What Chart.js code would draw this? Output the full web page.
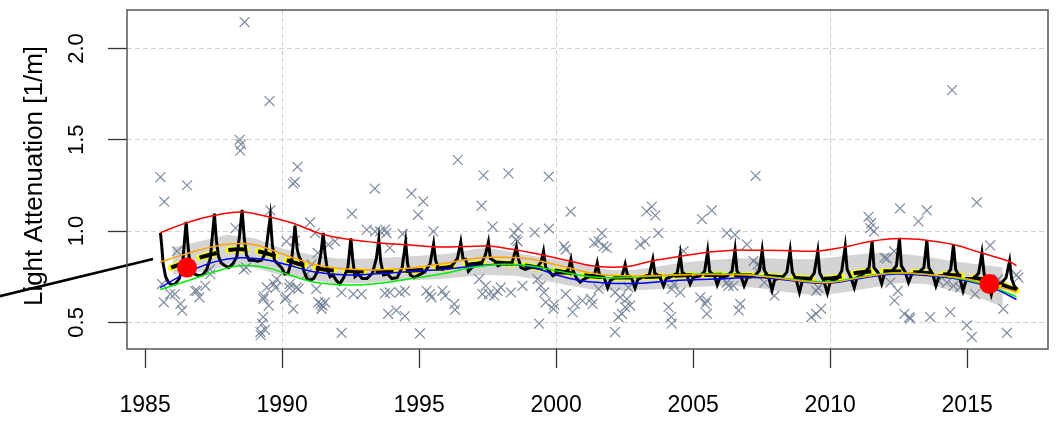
<!DOCTYPE html>
<html>
<head>
<meta charset="utf-8">
<script src="https://cdn.jsdelivr.net/npm/chart.js@4.4.1/dist/chart.umd.min.js"></script>
<style>
  html, body { margin: 0; padding: 0; background: #fff; }
  canvas { display: block; }
</style>
</head>
<body>
<canvas id="chart" width="1061" height="421"></canvas>
<script>
// axis setup
const xTicks = [1985, 1990, 1995, 2000, 2005, 2010, 2015];
const yTicks = [0.5, 1.0, 1.5, 2.0];
const yTickLabels = ['0.5', '1.0', '1.5', '2.0'];
const yTitle = 'Light Attenuation [1/m]';

// observations (year, value)
const observed = [
  [1988.63,2.145],[1989.54,1.712],[1988.45,1.50],[1988.5,1.475],[1988.47,1.44],[1996.41,1.39],[2014.45,1.772],
  [1985.56,1.296],[1985.7,1.161],[1986.53,1.251],[1989.57,1.113],[1990.4,1.26],[1990.47,1.27],[1990.56,1.352],
  [1991.02,1.047],[1992.55,1.095],[1993.38,1.233],[1994.72,1.206],[1995.15,1.163],[1994.96,1.089],[1997.35,1.305],
  [1998.26,1.316],[1999.73,1.298],[1997.28,1.139],[2000.53,1.107],[2003.3,1.108],[2003.49,1.134],[2003.62,1.086],
  [2005.32,1.066],[2005.68,1.113],[2007.28,1.303],[2011.4,1.078],[2011.5,1.043],[2011.6,0.998],[2011.46,1.016],
  [2012.55,1.125],[2013.53,1.113],[2013.22,1.053],[2015.35,1.157],
  [1997.68,1.025],[1998.61,1.016],[1998.47,0.989],[1998.53,0.953],[1998.59,0.944],[1999.22,0.993],[1999.74,1.013],
  [2000.29,0.917],[2000.35,0.899],[2001.39,0.935],[2001.67,0.989],[2001.55,0.944],[2001.73,0.917],[2001.85,0.908],
  [2003.73,0.989],[2003.25,0.944],[2003.07,0.926],[2004.65,0.89],[2006.23,0.989],[2006.53,0.98],[2006.96,0.926],
  [2007.2,0.836],[2007.36,0.818],[2007.45,0.81],[2011.98,0.854],[2012.07,0.85],[2012.33,0.89],[2015.84,0.921],
  [2016.87,0.745],[2016.8,0.76],[2016.14,0.737],
  [1990.16,0.944],[1990.47,0.948],[1991.2,0.989],[1991.3,0.88],[1991.69,0.926],[1991.93,0.944],[1993.09,1.008],
  [1993.39,0.998],[1993.58,0.998],[1993.76,1.008],[1993.81,0.989],[1993.93,0.908],[1994.4,0.984],[1995.52,0.998],
  [1988.3,1.016],[1986.17,0.89],[1988.69,0.80],[1988.6,0.79],[1987.38,0.764],[1987.37,0.79],
  [1985.62,0.71],[1985.68,0.61],[1985.92,0.655],[1986.09,0.655],[1986.29,0.601],[1986.35,0.565],[1986.82,0.673],
  [1986.9,0.673],[1986.98,0.637],[1987.2,0.70],
  [1989.33,0.642],[1989.51,0.592],[1989.31,0.529],[1989.27,0.493],[1989.21,0.447],[1989.38,0.46],[1989.22,0.43],
  [1989.7,0.71],[1989.76,0.69],[1989.8,0.737],[1989.44,0.691],[1989.32,0.628],
  [1990.11,0.628],[1990.16,0.637],[1990.28,0.71],[1990.27,0.69],[1990.41,0.574],[1990.52,0.69],[1990.6,0.683],
  [1990.9,0.764],[1991.08,0.818],[1991.25,0.683],[1991.32,0.61],[1991.4,0.601],[1991.47,0.592],[1991.44,0.574],
  [1991.57,0.61],[1992.17,0.664],[1992.17,0.442],[1992.6,0.655],[1992.9,0.655],[1993.75,0.659],[1993.93,0.664],
  [1994.29,0.664],[1993.87,0.547],[1994.17,0.565],[1994.48,0.534],[1995.03,0.439],[1995.27,0.673],[1995.39,0.655],
  [1995.45,0.637],[1994.49,0.673],[1995.95,0.646],
  [1995.85,0.673],[1996.28,0.601],[1996.31,0.569],[1997.19,0.737],[1997.43,0.70],[1997.31,0.655],[1997.55,0.655],
  [1997.74,0.646],[1997.86,0.673],[1997.98,0.691],[1998.35,0.664],[1998.77,0.70],[1999.32,0.737],[1999.44,0.70],
  [1999.56,0.664],[1999.62,0.61],[1999.93,0.597],[2000.35,0.655],[1999.38,0.493],[2000.6,0.556],[2000.96,0.619],
  [2001.27,0.628],[2001.33,0.601],[1999.9,0.574],[2000.69,0.601],
  [2001.55,0.683],[2002.15,0.664],[2002.34,0.637],[2002.58,0.628],[2002.52,0.583],[2002.7,0.592],[2002.4,0.547],
  [2002.27,0.529],[2002.64,0.691],[2002.15,0.447],[2004.22,0.683],[2004.53,0.664],[2004.3,0.71],[2004.1,0.583],
  [2004.2,0.53],[2004.22,0.493],[2005.26,0.637],[2005.5,0.619],[2005.5,0.547],[2005.44,0.601],[2006.29,0.70],
  [2006.47,0.70],[2006.72,0.601],[2006.66,0.565],[2006.23,0.718],
  [2007.6,0.718],[2007.97,0.646],[2009.49,0.673],[2009.57,0.69],[2009.31,0.529],[2009.49,0.547],[2009.67,0.574],
  [2012.71,0.547],[2012.89,0.529],[2012.35,0.619],[2012.47,0.673],[2012.2,0.718],
  [2013.96,0.727],[2014.26,0.718],[2014.5,0.70],[2014.74,0.691],[2015.29,0.655],[2016.32,0.574],[2014.38,0.556],
  [2013.65,0.529],[2012.92,0.52],[2014.99,0.484],[2015.17,0.42],[2016.45,0.442]
];

// seasonal model (black)
const seasonal = [
  [1985.56,0.99],[1985.60,0.93],[1985.66,0.82],[1985.75,0.75],[1985.85,0.72],[1985.95,0.705],[1986.10,0.71],
  [1986.25,0.74],[1986.36,0.80],[1986.44,0.95],[1986.50,1.05],[1986.56,0.93],[1986.62,0.84],[1986.70,0.78],
  [1986.80,0.765],[1986.95,0.755],[1987.10,0.76],[1987.25,0.79],[1987.38,0.85],[1987.46,0.98],[1987.53,1.095],
  [1987.60,0.95],[1987.68,0.86],[1987.78,0.825],[1987.92,0.81],[1988.05,0.80],[1988.20,0.82],[1988.35,0.86],
  [1988.45,0.98],[1988.54,1.116],[1988.62,0.96],[1988.70,0.87],[1988.80,0.84],[1988.95,0.84],[1989.10,0.835],
  [1989.25,0.84],[1989.40,0.88],[1989.50,1.00],[1989.57,1.08],[1989.64,0.93],[1989.72,0.84],[1989.85,0.82],
  [1989.98,0.80],[1990.10,0.765],[1990.22,0.77],[1990.35,0.84],[1990.47,1.03],[1990.55,0.90],[1990.62,0.86],
  [1990.72,0.83],[1990.80,0.78],[1990.90,0.74],[1991.02,0.73],[1991.15,0.74],[1991.30,0.78],[1991.42,0.88],
  [1991.50,0.99],[1991.57,0.87],[1991.65,0.79],[1991.75,0.75],[1991.85,0.76],[1991.98,0.73],[1992.10,0.71],
  [1992.25,0.745],[1992.40,0.80],[1992.51,0.96],[1992.58,0.84],[1992.66,0.75],[1992.78,0.765],[1992.92,0.74],
  [1993.10,0.74],[1993.30,0.77],[1993.44,0.85],[1993.53,0.953],[1993.60,0.83],[1993.70,0.76],[1993.85,0.765],
  [1994.00,0.74],[1994.20,0.745],[1994.38,0.80],[1994.51,0.94],[1994.58,0.82],[1994.68,0.76],[1994.82,0.745],
  [1995.00,0.76],[1995.20,0.775],[1995.40,0.82],[1995.53,0.93],[1995.60,0.84],[1995.70,0.80],[1995.85,0.79],
  [1996.00,0.80],[1996.20,0.81],[1996.40,0.85],[1996.52,0.94],[1996.60,0.85],[1996.70,0.845],[1996.80,0.78],
  [1996.92,0.80],[1997.10,0.82],[1997.30,0.83],[1997.42,0.87],[1997.53,0.94],[1997.60,0.85],[1997.75,0.836],
  [1997.88,0.81],[1998.00,0.82],[1998.20,0.82],[1998.40,0.83],[1998.55,0.913],[1998.62,0.85],[1998.72,0.80],
  [1998.88,0.79],[1999.05,0.80],[1999.30,0.80],[1999.45,0.83],[1999.54,0.89],[1999.62,0.80],[1999.75,0.78],
  [1999.88,0.755],[2000.05,0.77],[2000.30,0.77],[2000.45,0.79],[2000.54,0.845],[2000.60,0.79],[2000.75,0.74],
  [2000.88,0.72],[2001.00,0.735],[2001.20,0.75],[2001.40,0.76],[2001.50,0.825],[2001.58,0.76],[2001.75,0.745],
  [2001.88,0.69],[2001.98,0.73],[2002.20,0.75],[2002.40,0.75],[2002.52,0.818],[2002.60,0.76],[2002.75,0.745],
  [2002.88,0.688],[2002.98,0.735],[2003.20,0.75],[2003.40,0.76],[2003.53,0.845],[2003.60,0.77],[2003.78,0.75],
  [2003.92,0.70],[2004.02,0.74],[2004.25,0.755],[2004.42,0.77],[2004.53,0.872],[2004.60,0.775],[2004.78,0.755],
  [2004.89,0.71],[2005.00,0.745],[2005.25,0.755],[2005.42,0.78],[2005.53,0.89],[2005.60,0.78],[2005.78,0.755],
  [2005.88,0.705],[2005.98,0.745],[2006.25,0.755],[2006.42,0.78],[2006.53,0.899],[2006.60,0.78],[2006.74,0.755],
  [2006.86,0.70],[2006.98,0.745],[2007.25,0.755],[2007.42,0.785],[2007.52,0.895],[2007.60,0.785],[2007.76,0.745],
  [2007.88,0.676],[2007.98,0.735],[2008.25,0.745],[2008.42,0.775],[2008.54,0.894],[2008.62,0.775],[2008.76,0.735],
  [2008.88,0.664],[2008.98,0.725],[2009.25,0.735],[2009.42,0.77],[2009.55,0.89],[2009.62,0.77],[2009.76,0.73],
  [2009.90,0.66],[2010.00,0.72],[2010.25,0.74],[2010.42,0.78],[2010.55,0.915],[2010.62,0.79],[2010.76,0.745],
  [2010.88,0.69],[2010.98,0.745],[2011.25,0.77],[2011.42,0.80],[2011.53,0.944],[2011.60,0.80],[2011.76,0.77],
  [2011.88,0.712],[2011.98,0.765],[2012.25,0.78],[2012.42,0.81],[2012.53,0.962],[2012.60,0.81],[2012.74,0.775],
  [2012.86,0.718],[2012.98,0.765],[2013.25,0.775],[2013.42,0.80],[2013.53,0.95],[2013.60,0.80],[2013.74,0.765],
  [2013.86,0.70],[2013.98,0.755],[2014.25,0.76],[2014.40,0.79],[2014.50,0.926],[2014.58,0.79],[2014.72,0.75],
  [2014.85,0.673],[2014.98,0.74],[2015.25,0.74],[2015.42,0.77],[2015.54,0.88],[2015.62,0.765],[2015.76,0.72],
  [2015.88,0.652],[2015.98,0.71],[2016.25,0.715],[2016.42,0.745],[2016.55,0.836],[2016.62,0.74],[2016.72,0.70],
  [2016.83,0.68]
];

// annual mean (black dashed over yellow)
const annualMean = [
  [1985.95,0.80],[1986.5,0.83],[1987,0.855],[1987.5,0.875],[1988,0.895],[1988.5,0.90],[1989,0.893],[1989.5,0.875],
  [1990,0.85],[1990.5,0.825],[1991,0.805],[1991.5,0.79],[1992,0.783],[1993,0.778],[1994,0.78],[1995,0.785],
  [1996,0.80],[1997,0.82],[1997.7,0.828],[1998.5,0.82],[1999.5,0.795],[2000.5,0.77],[2001.5,0.75],[2002.5,0.745],
  [2003.5,0.75],[2004.5,0.757],[2005.5,0.76],[2006.5,0.76],[2007.5,0.755],[2008.5,0.745],[2009.5,0.738],
  [2010.2,0.745],[2011,0.772],[2012,0.78],[2013,0.775],[2014,0.765],[2015,0.75],[2016,0.72],[2016.8,0.675]
];

// smooth trend curves
const redTrend = [
  [1985.55,0.99],[1986.5,1.045],[1987.5,1.085],[1988.5,1.105],[1989.5,1.078],[1990.4,1.043],[1991.4,0.985],
  [1992.4,0.955],[1993.4,0.938],[1994.5,0.925],[1995.7,0.913],[1996.7,0.915],[1997.5,0.918],[1998.4,0.9],
  [1999.4,0.872],[2000.5,0.836],[2001.5,0.806],[2002.6,0.806],[2003.5,0.836],[2004.6,0.863],[2005.6,0.885],
  [2006.5,0.895],[2007.3,0.895],[2008.3,0.894],[2009.5,0.89],[2010.5,0.912],[2011.5,0.944],[2012.5,0.959],
  [2013.5,0.95],[2014.5,0.926],[2015.5,0.881],[2016.5,0.836],[2016.8,0.81]
];
const orangeTrend = [
  [1985.55,0.83],[1986.5,0.875],[1987.5,0.915],[1988.2,0.93],[1989,0.925],[1990.2,0.865],[1991.1,0.82],
  [1992,0.797],[1993.3,0.787],[1994.5,0.795],[1995.8,0.82],[1996.8,0.845],[1997.6,0.856],[1998.8,0.852],
  [2000,0.815],[2001.5,0.765],[2002.5,0.755],[2003.8,0.756],[2005,0.762],[2006.3,0.762],[2007.2,0.757],
  [2008.2,0.74],[2009.1,0.724],[2010,0.718],[2011.1,0.745],[2012.4,0.77],[2013.8,0.758],[2015,0.737],
  [2016,0.70],[2016.8,0.668]
];
const blueTrend = [
  [1985.55,0.69],[1986.5,0.77],[1987.5,0.83],[1988.5,0.854],[1989.5,0.84],[1990.2,0.815],[1991.2,0.776],
  [1992.4,0.76],[1993.7,0.768],[1995,0.782],[1995.9,0.79],[1997,0.808],[1998.1,0.818],[1999.1,0.803],
  [2000,0.76],[2000.8,0.731],[2001.6,0.718],[2002.9,0.713],[2004.3,0.728],[2005.8,0.737],[2007.2,0.745],
  [2008.2,0.735],[2009.1,0.72],[2010,0.715],[2011.1,0.74],[2012.4,0.765],[2013.8,0.752],[2015,0.727],
  [2016,0.685],[2016.8,0.625]
];
const greenTrend = [
  [1985.55,0.68],[1986.5,0.725],[1987.5,0.775],[1988.5,0.81],[1989.5,0.797],[1990.2,0.763],[1991.2,0.72],
  [1992.4,0.705],[1993.4,0.712],[1994.6,0.737],[1995.9,0.767],[1996.9,0.80],[1998.1,0.818],[1999.1,0.809],
  [2000,0.782],[2001.5,0.747],[2002.6,0.745],[2003.8,0.755],[2005,0.763],[2006.3,0.764],[2007.2,0.76],
  [2008.2,0.743],[2009.1,0.728],[2010,0.722],[2011.1,0.748],[2012.4,0.772],[2013.8,0.758],[2015,0.732],
  [2016,0.69],[2016.8,0.64]
];

// grey confidence band
const bandYears = [1986.0,1987,1988,1989,1990,1991,1992,1993,1994,1995,1996,1997,1997.5,1998.5,1999.5,2000.5,
  2001.5,2002.5,2003.5,2004.5,2005.5,2006.5,2007.5,2008.5,2009.5,2010.5,2011.5,2012.5,2013.5,2014.5,2015.5,2016.3];
const bandHigh = [0.91,0.944,0.98,0.96,0.905,0.872,0.85,0.848,0.857,0.865,0.875,0.9,0.908,0.88,0.855,0.83,
  0.795,0.782,0.80,0.825,0.84,0.85,0.852,0.845,0.847,0.863,0.88,0.878,0.86,0.835,0.815,0.80];
const bandLow = [0.763,0.775,0.81,0.80,0.755,0.735,0.712,0.715,0.727,0.732,0.74,0.755,0.76,0.755,0.73,0.70,
  0.676,0.673,0.68,0.69,0.697,0.70,0.685,0.664,0.648,0.664,0.69,0.715,0.71,0.67,0.63,0.585];

// highlighted points and pointer line
const highlight = [[1986.53,0.80],[2015.81,0.71]];
const pointer = [[1979.5,0.636],[1985.29,0.847]];

const pts = arr => arr.map(p => ({x: p[0], y: p[1]}));

const rFrame = {
  id: 'rFrame',
  afterDraw(chart) {
    const {ctx, chartArea: a, scales} = chart;
    ctx.save();
    ctx.setLineDash([]);
    ctx.strokeStyle = '#555';
    ctx.lineWidth = 1.5;
    ctx.strokeRect(a.left, a.top, a.right - a.left, a.bottom - a.top);

    ctx.fillStyle = '#000';
    ctx.textAlign = 'center';
    ctx.textBaseline = 'middle';
    ctx.font = '22px "Liberation Sans", Arial, sans-serif';
    yTicks.forEach((v, i) => {
      ctx.save();
      ctx.translate(77, scales.y.getPixelForValue(v));
      ctx.rotate(-Math.PI / 2);
      ctx.fillText(yTickLabels[i], 0, 0);
      ctx.restore();
    });
    ctx.font = '26px "Liberation Sans", Arial, sans-serif';
    ctx.translate(35, 176);
    ctx.rotate(-Math.PI / 2);
    ctx.fillText(yTitle, 0, 0);
    ctx.restore();
  }
};

const lineDs = (data, color, width, order) => ({
  data: pts(data), showLine: true, borderColor: color, borderWidth: width,
  pointRadius: 0, tension: 0.4, fill: false, order: order
});

new Chart(document.getElementById('chart'), {
  type: 'scatter',
  data: {
    datasets: [
      { data: pts(highlight), pointRadius: 10, backgroundColor: '#ff0000', borderWidth: 0, order: 0 },
      { data: pts(pointer), showLine: true, borderColor: '#000', borderWidth: 2.5, pointRadius: 0, clip: false, order: 1 },
      lineDs(redTrend, '#ff0000', 1.5, 2),
      lineDs(orangeTrend, '#ffa500', 1.5, 2),
      lineDs(greenTrend, '#00ee00', 1.5, 2),
      lineDs(blueTrend, '#0000ff', 1.5, 2),
      { data: pts(annualMean), showLine: true, borderColor: '#000', borderWidth: 4, borderDash: [18, 12],
        pointRadius: 0, tension: 0.3, order: 2.5 },
      { data: pts(seasonal), showLine: true, borderColor: '#000', borderWidth: 3, pointRadius: 0,
        tension: 0, order: 3 },
      { data: pts(annualMean), showLine: true, borderColor: '#ffff00', borderWidth: 6.5, borderDash: [18, 12],
        borderCapStyle: 'round', pointRadius: 0, tension: 0.3, order: 5 },
      { data: pts(observed), pointStyle: 'crossRot', pointRadius: 7,
        borderColor: 'rgba(112,128,150,0.9)', borderWidth: 1.2, backgroundColor: 'transparent', order: 6 },
      { data: bandYears.map((x, i) => ({x: x, y: bandHigh[i]})), showLine: true, borderWidth: 0,
        borderColor: 'rgba(0,0,0,0)', pointRadius: 0, backgroundColor: '#d4d4d4', fill: '+1', order: 7 },
      { data: bandYears.map((x, i) => ({x: x, y: bandLow[i]})), showLine: true, borderWidth: 0,
        borderColor: 'rgba(0,0,0,0)', pointRadius: 0, order: 7 }
    ]
  },
  options: {
    responsive: false,
    animation: false,
    events: [],
    layout: { padding: { left: 0, top: 6, right: 13, bottom: 0 } },
    plugins: { legend: { display: false }, tooltip: { enabled: false } },
    scales: {
      x: {
        type: 'linear', min: 1984.34, max: 2017.95,
        afterBuildTicks: s => { s.ticks = xTicks.map(v => ({value: v})); },
        afterFit: s => { s.height = 72; },
        border: { display: false, dash: [5, 3] },
        grid: {
          color: c => (c.tick && c.tick.value % 10 === 0) ? '#d0d0d0' : 'rgba(0,0,0,0)',
          lineWidth: 1, tickLength: 19, tickColor: '#333', tickWidth: 1.3, tickBorderDash: []
        },
        ticks: {
          color: '#000', padding: 24, maxRotation: 0,
          font: { size: 23, family: '"Liberation Sans", Arial, sans-serif' },
          callback: v => String(v)
        }
      },
      y: {
        type: 'linear', min: 0.354, max: 2.211,
        afterBuildTicks: s => { s.ticks = yTicks.map(v => ({value: v})); },
        afterFit: s => { s.width = 127; },
        border: { display: false, dash: [5, 3] },
        grid: { color: '#d0d0d0', lineWidth: 1, tickLength: 19, tickColor: '#333', tickWidth: 1.3, tickBorderDash: [] },
        ticks: { display: false }
      }
    }
  },
  plugins: [rFrame]
});
</script>
</body>
</html>
